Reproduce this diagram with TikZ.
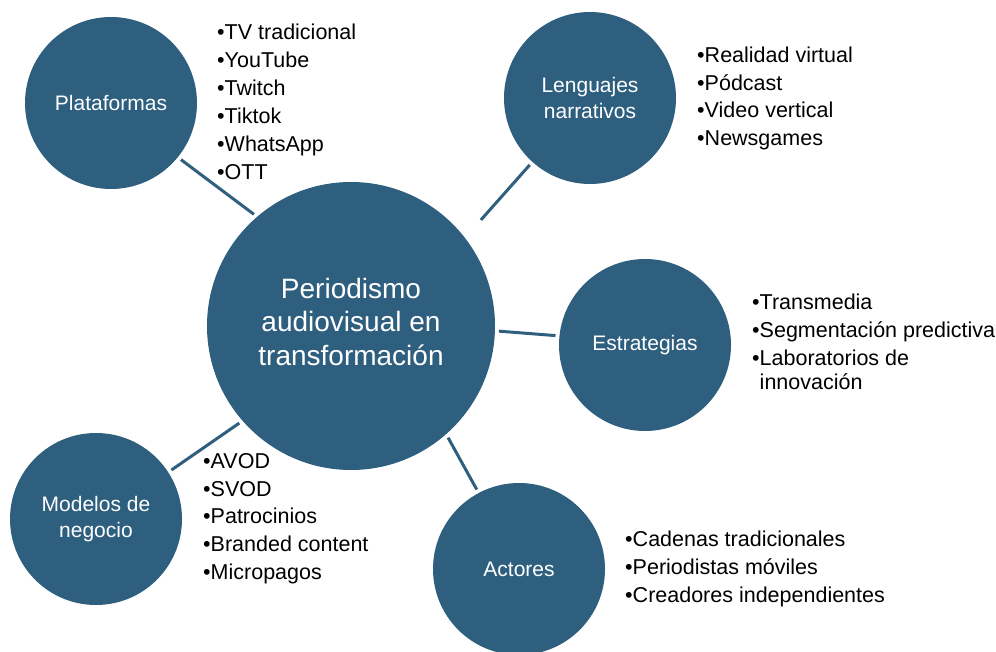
\documentclass[tikz,border=0pt]{standalone}
\usepackage{fontspec}
\setmainfont{Liberation Sans}
\definecolor{hub}{HTML}{2E5F7F}
\begin{document}
\begin{tikzpicture}[x=1pt,y=-1pt,
  hubc/.style={circle, fill=hub, draw=none, text=white, align=center, outer sep=4pt, inner sep=0pt},
  big/.style={hubc, minimum size=288pt},
  bigtext/.style={text=white, align=center, inner sep=0pt, font=\fontsize{28}{33.5}\selectfont},
  sat/.style={hubc, minimum size=172pt, font=\fontsize{21}{25.5}\selectfont},
  link/.style={draw=hub, line width=3pt},
  bul/.style={anchor=base west, inner sep=0pt, font=\fontsize{21.5}{26}\selectfont}]
\useasboundingbox (0,0) rectangle (996,652);
\node[big] (c) at (351,326) {};
\node[bigtext] (ct) at (351,321.5) {Periodismo\\audiovisual en\\transformación};
\node[sat] (pl) at (111,103) {Plataformas};
\node[sat] (le) at (590,98) {Lenguajes\\narrativos};
\node[sat] (es) at (645,345) {Estrategias};
\node[sat] (ac) at (519,569) {Actores};
\node[sat] (mo) at (96,519) {Modelos de\\negocio};
\draw[link] (c.131.7) -- (pl.321.2);
\draw[link, shorten <=20pt] (c.38.7) -- (le.228.2);
\draw[link] (c.358.1) -- (es.174.9);
\draw[link] (c.311.5) -- (ac.118);
\draw[link] (c.221.4) -- (mo.33.7);
\foreach \t [count=\i] in {TV tradicional, YouTube, Twitch, Tiktok, WhatsApp, OTT}
  \node[bul] (plb\i) at (217, {32+28*(\i-1)+7.5}) {•\t};
\foreach \t [count=\i] in {Realidad virtual, Pódcast, Video vertical, Newsgames}
  \node[bul] (leb\i) at (697, {55+27.7*(\i-1)+7.5}) {•\t};
\foreach \t [count=\i] in {Transmedia, Segmentación predictiva, Laboratorios de}
  \node[bul] (esb\i) at (752, {302+28*(\i-1)+7.5}) {•\t};
\node[bul] (esb4) at (752, 389.5) {\phantom{•}innovación};
\foreach \t [count=\i] in {Cadenas tradicionales, Periodistas móviles, Creadores independientes}
  \node[bul] (acb\i) at (625, {539+28*(\i-1)+7.5}) {•\t};
\foreach \t [count=\i] in {AVOD, SVOD, Patrocinios, Branded content, Micropagos}
  \node[bul] (mob\i) at (203, {461+27.7*(\i-1)+7.5}) {•\t};
\end{tikzpicture}
\end{document}
